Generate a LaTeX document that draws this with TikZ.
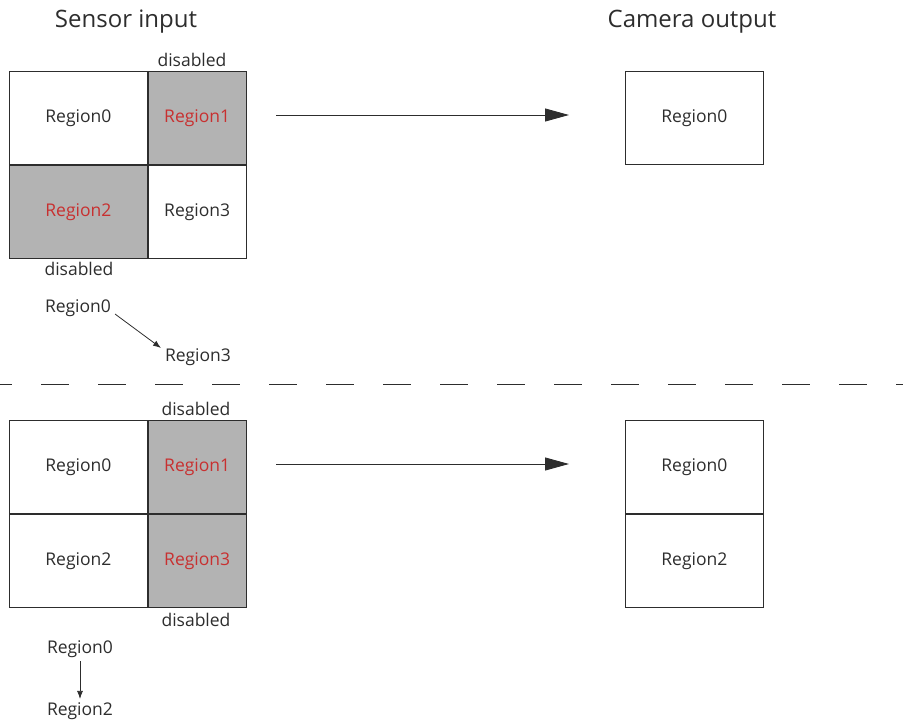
\documentclass[tikz,border=0pt]{standalone}
\usepackage{fontspec}
\setmainfont{Open Sans}
\usepackage{tikz}
\usetikzlibrary{positioning,arrows.meta}

\definecolor{cellgray}{RGB}{179,179,179}
\definecolor{offred}{RGB}{200,48,48}
\definecolor{ink}{RGB}{45,45,45}

\begin{document}
\begin{tikzpicture}[x=1pt, y=-1pt, ink,
    font=\fontsize{17.5}{20}\selectfont,
    wide/.style={draw, line width=0.8pt, inner sep=0pt, minimum width=138pt, minimum height=93pt},
    narrow/.style={wide, minimum width=98pt},
    off/.style={fill=cellgray, text=offred},
    title/.style={font=\fontsize{24}{28}\selectfont},
    bigarrow/.style={-{Triangle[length=24pt, width=13pt]}, line width=0.9pt},
    smallarrow/.style={-{Latex[length=8pt, width=6pt]}, line width=0.8pt}]
    \useasboundingbox (0,0) rectangle (903,722);

    % headings
    \node[title] (sensor) at (126,22) {Sensor input};
    \node[title] (camera) at (692,22) {Camera output};

    % first case: region1 and region2 disabled
    \node[wide, anchor=north west] (a0) at (9,71) {Region0};
    \node[narrow, off, right=0pt of a0] (a1) {Region1};
    \node[wide, off, below=0pt of a0] (a2) {Region2};
    \node[narrow, right=0pt of a2] (a3) {Region3};
    \node (adis1) at (192,60) {disabled};
    \node (adis2) at (79,269) {disabled};

    \coordinate (afrom) at (276,115);
    \coordinate (ato) at (569,115);
    \draw[bigarrow] (afrom) -- (ato);

    \node[wide, anchor=north west] (ac0) at (625,71) {Region0};

    \node (aord0) at (78,308) {Region0};
    \node (aord3) at (198,357) {Region3};
    \coordinate (aord0out) at (115,314);
    \coordinate (aord3in) at (161,348);
    \draw[smallarrow] (aord0out) -- (aord3in);

    % separator
    \draw[line width=0.9pt, dash pattern=on 28pt off 29pt, dash phase=16pt] (0,384) -- (903,384);

    % second case: region1 and region3 disabled
    \node[wide, anchor=north west] (b0) at (9,420) {Region0};
    \node[narrow, off, right=0pt of b0] (b1) {Region1};
    \node[wide, below=0pt of b0] (b2) {Region2};
    \node[narrow, off, right=0pt of b2] (b3) {Region3};
    \node (bdis1) at (196,409) {disabled};
    \node (bdis3) at (196,620) {disabled};

    \coordinate (bfrom) at (276,464);
    \coordinate (bto) at (569,464);
    \draw[bigarrow] (bfrom) -- (bto);

    \node[wide, anchor=north west] (bc0) at (625,420) {Region0};
    \node[wide, below=0pt of bc0] (bc2) {Region2};

    \node (bord0) at (80,649) {Region0};
    \node (bord2) at (80,711) {Region2};
    \draw[smallarrow] (bord0.south) -- (bord2.north);
\end{tikzpicture}
\end{document}
